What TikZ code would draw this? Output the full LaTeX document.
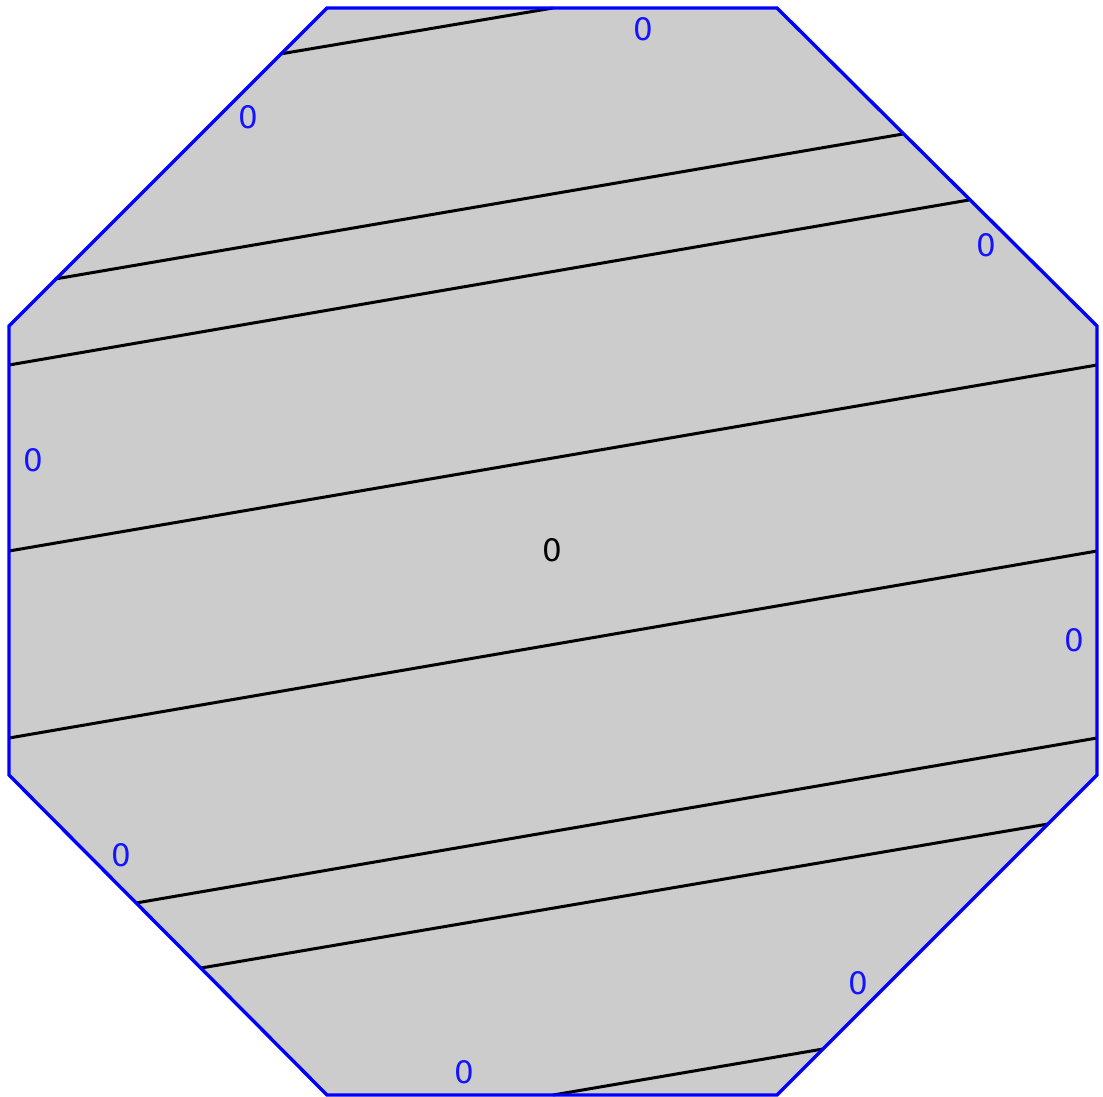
\documentclass[tikz,border=0pt]{standalone}
\usepackage{fontspec}
\setmainfont{DejaVu Sans}
\begin{document}
\begin{tikzpicture}[x=1pt,y=-1pt,
  edge/.style={draw={rgb,255:red,0;green,0;blue,255},line width=3.4pt},
  cut/.style={draw=black,line width=3pt},
  lab/.style={text={rgb,255:red,20;green,20;blue,255},font=\fontsize{31}{34}\selectfont,inner sep=0pt},
  clab/.style={text=black,font=\fontsize{31}{34}\selectfont,inner sep=0pt}]
\useasboundingbox (0,0) rectangle (1103,1097);
% octagon vertices
\coordinate (v1) at (327,8);
\coordinate (v2) at (777,8);
\coordinate (v3) at (1097,326);
\coordinate (v4) at (1097,775);
\coordinate (v5) at (777,1095);
\coordinate (v6) at (327,1095);
\coordinate (v7) at (9,775);
\coordinate (v8) at (9,326);
\fill[fill={rgb,255:red,204;green,204;blue,204}] (v1)--(v2)--(v3)--(v4)--(v5)--(v6)--(v7)--(v8)--cycle;
% line endpoints
\coordinate (a1) at (280,54);   \coordinate (b1) at (553,8);
\coordinate (a2) at (55,279);   \coordinate (b2) at (903,134);
\coordinate (a3) at (9,365);    \coordinate (b3) at (969,200);
\coordinate (a4) at (9,551);    \coordinate (b4) at (1097,365);
\coordinate (a5) at (9,738);    \coordinate (b5) at (1097,551);
\coordinate (a6) at (136,903);  \coordinate (b6) at (1097,738);
\coordinate (a7) at (201,968);  \coordinate (b7) at (1048,824);
\coordinate (a8) at (553,1095); \coordinate (b8) at (823,1049);
\foreach \i in {1,...,8} {\draw[cut] (a\i) -- (b\i);}
\path[edge,line join=miter] (v1)--(v2)--(v3)--(v4)--(v5)--(v6)--(v7)--(v8)--cycle;
% labels
\node[lab] (l1) at (643,29) {0};
\node[lab] (l2) at (248,117) {0};
\node[lab] (l3) at (986,245) {0};
\node[lab] (l4) at (33,460) {0};
\node[lab] (l5) at (1074,640) {0};
\node[lab] (l6) at (121,855) {0};
\node[lab] (l7) at (858,983) {0};
\node[lab] (l8) at (464,1072) {0};
\node[clab] (c) at (552,550) {0};
\end{tikzpicture}
\end{document}
